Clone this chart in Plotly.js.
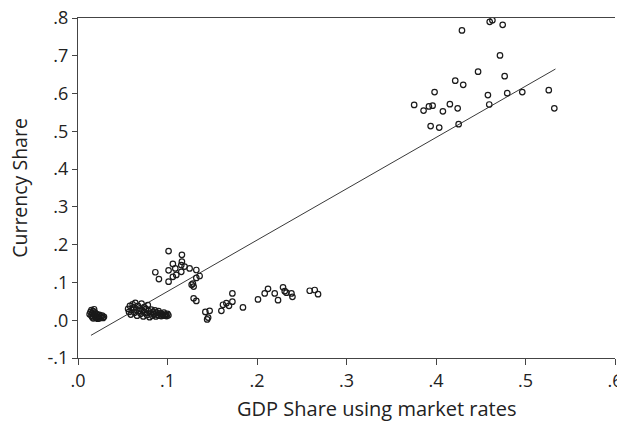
<!DOCTYPE html>
<html>
<head>
<meta charset="utf-8">
<script src="https://cdn.plot.ly/plotly-3.0.1.min.js"></script>
<style>html,body{margin:0;padding:0;background:#fff;}#chart{width:617px;height:423px;}</style>
</head>
<body>
<div id="chart"></div>
<script>
// Upper-right cluster (large economies)
const upperGdp = [0.460,0.463,0.4745,0.429,0.4715,0.447,0.4767,0.4215,0.4304,0.3984,0.458,0.4796,0.4964,0.526,0.3756,0.3861,0.3921,0.3962,0.4155,0.4077,0.4242,0.4595,0.5322,0.394,0.4036,0.4253];
const upperCur = [0.790,0.794,0.782,0.767,0.701,0.658,0.646,0.634,0.623,0.604,0.596,0.601,0.604,0.609,0.570,0.555,0.566,0.568,0.572,0.553,0.561,0.571,0.561,0.514,0.510,0.519];

// Middle cluster
const midGdp = [0.1012,0.1161,0.106,0.1161,0.1154,0.1087,0.1012,0.0864,0.1191,0.1247,0.1322,0.0904,0.1012,0.106,0.1098,0.1154,0.1359,0.1322,0.1284,0.1292,0.127,0.1292,0.1322,0.1423,0.1471,0.1443,0.1454];
const midCur = [0.183,0.173,0.149,0.155,0.146,0.137,0.132,0.127,0.142,0.137,0.133,0.109,0.102,0.115,0.120,0.128,0.117,0.112,0.097,0.089,0.094,0.058,0.051,0.022,0.025,0.002,0.007];

// Lower-middle group
const lowGdp = [0.1602,0.162,0.1658,0.1687,0.1725,0.1725,0.1843,0.2011,0.2086,0.2123,0.2198,0.2235,0.2291,0.231,0.2329,0.2385,0.2396,0.2589,0.2645,0.2682];
const lowCur = [0.025,0.041,0.045,0.038,0.049,0.071,0.034,0.055,0.071,0.083,0.071,0.053,0.087,0.077,0.073,0.071,0.062,0.078,0.080,0.069];

// Small-economy cluster A
const smallAGdp = [0.014,0.015,0.016,0.017,0.015,0.016,0.018,0.018,0.019,0.020,0.020,0.021,0.022,0.023,0.024,0.025,0.026,0.027,0.028,0.029,0.017,0.022,0.019,0.024,0.013];
const smallACur = [0.022,0.027,0.018,0.024,0.012,0.008,0.015,0.029,0.020,0.011,0.006,0.016,0.009,0.013,0.005,0.010,0.007,0.012,0.006,0.009,0.005,0.004,0.010,0.014,0.016];

// Small-economy cluster B
const smallBGdp = [0.056,0.057,0.058,0.059,0.060,0.061,0.062,0.063,0.064,0.065,0.066,0.067,0.068,0.069,0.070,0.071,0.072,0.073,0.074,0.075,0.076,0.077,0.078,0.079,0.080,
  0.081,0.082,0.083,0.084,0.085,0.086,0.087,0.088,0.089,0.090,0.091,0.092,0.093,0.094,0.095,0.096,0.097,0.098,0.099,0.100,0.101];
const smallBCur = [0.030,0.022,0.038,0.015,0.027,0.042,0.034,0.020,0.046,0.028,0.012,0.038,0.024,0.031,0.017,0.044,0.026,0.010,0.035,0.020,0.030,0.014,0.040,0.024,0.008,
  0.018,0.028,0.012,0.022,0.016,0.026,0.010,0.020,0.014,0.024,0.012,0.018,0.011,0.016,0.013,0.020,0.012,0.015,0.011,0.017,0.013];

// Fitted regression line endpoints
const fitGdp = [0.0145, 0.5335];
const fitCur = [-0.040, 0.665];

// Tick labels
const xTickVals = [0,0.1,0.2,0.3,0.4,0.5,0.6];
const xTickText = ['.0','.1','.2','.3','.4','.5','.6'];
const yTickVals = [-0.1,0,0.1,0.2,0.3,0.4,0.5,0.6,0.7,0.8];
const yTickText = ['-.1','.0','.1','.2','.3','.4','.5','.6','.7','.8'];

const xTitle = 'GDP Share using market rates';
const yTitle = 'Currency Share';

const allGdp = [].concat(upperGdp, midGdp, lowGdp, smallAGdp, smallBGdp);
const allCur = [].concat(upperCur, midCur, lowCur, smallACur, smallBCur);

const traces = [
  {x: allGdp, y: allCur, type: 'scatter', mode: 'markers',
   marker: {symbol: 'circle-open', size: 5.5, color: '#1a1a1a', line: {width: 1.2, color: '#1a1a1a'}},
   hoverinfo: 'skip'},
  {x: fitGdp, y: fitCur, type: 'scatter', mode: 'lines',
   line: {color: '#222', width: 0.9}, hoverinfo: 'skip'}
];

const fontFam = '"Open Sans", "Noto Sans", sans-serif';
const layout = {
  width: 617, height: 423,
  margin: {l: 78, r: 2, t: 18, b: 65},
  paper_bgcolor: '#fff', plot_bgcolor: '#fff',
  showlegend: false,
  font: {family: fontFam, color: '#222', size: 17},
  xaxis: {
    range: [0, 0.6], tickvals: xTickVals, ticktext: xTickText,
    showgrid: false, zeroline: false, showline: true, linecolor: '#444', linewidth: 1,
    mirror: true, ticklabeloverflow: 'allow',
    ticks: 'outside', ticklen: 6, tickcolor: '#444', tickwidth: 1,
    tickfont: {size: 18, family: fontFam, color: '#222'}
  },
  yaxis: {
    range: [-0.1, 0.8], tickvals: yTickVals, ticktext: yTickText,
    showgrid: false, zeroline: false, showline: true, linecolor: '#444', linewidth: 1,
    ticklabeloverflow: 'allow',
    ticks: 'outside', ticklen: 5, tickcolor: '#444', tickwidth: 1,
    tickfont: {size: 18, family: fontFam, color: '#222'},
    title: {text: yTitle, font: {size: 19.5, family: fontFam, color: '#222'}, standoff: 14}
  },
  annotations: [{
    text: xTitle, xref: 'paper', yref: 'paper', x: 0.555, y: -0.15,
    xanchor: 'center', yanchor: 'middle', showarrow: false,
    font: {size: 20, family: fontFam, color: '#222'}
  }]
};

Plotly.newPlot('chart', traces, layout, {staticPlot: true, displayModeBar: false});
</script>
</body>
</html>
